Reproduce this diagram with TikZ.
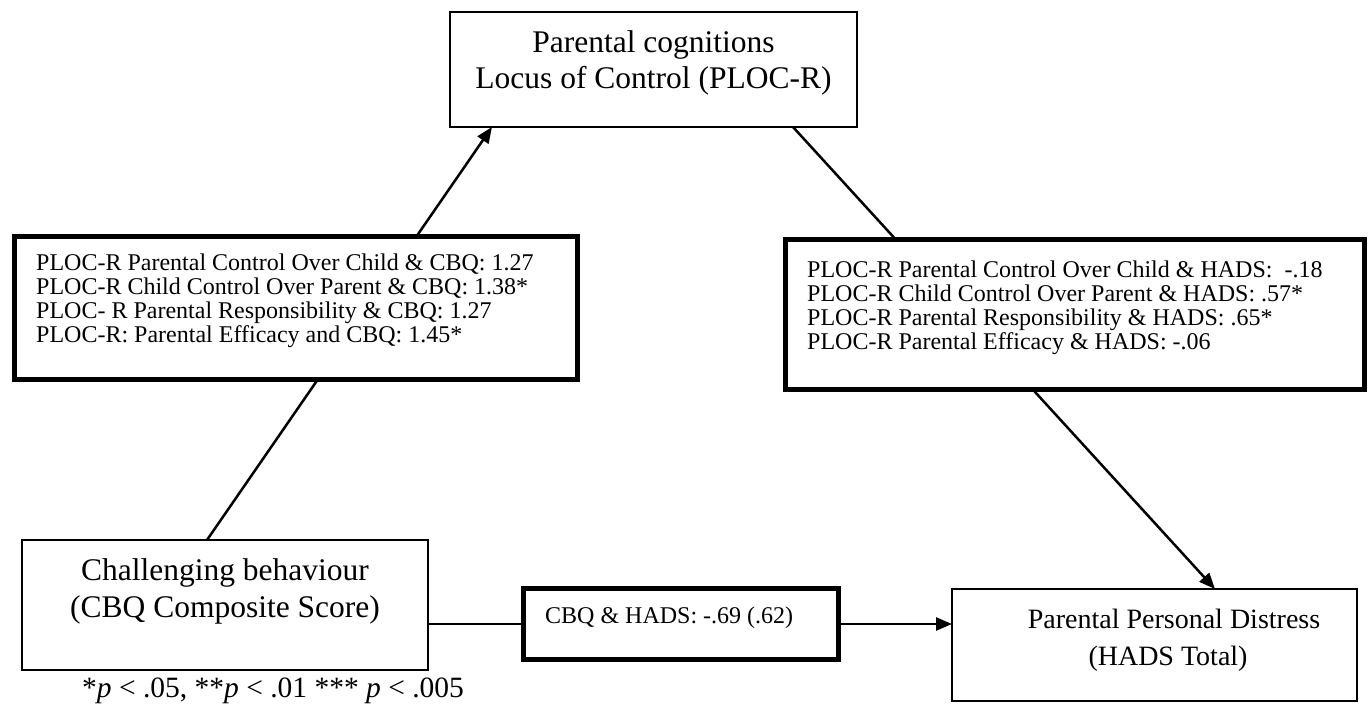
\documentclass[tikz,border=0pt]{standalone}
\usepackage{fontspec}
\setmainfont{Liberation Serif}
\usetikzlibrary{arrows.meta,calc}
\pgfdeclarelayer{bg}
\pgfsetlayers{bg,main}
\begin{document}
\begin{tikzpicture}[x=1pt,y=-1pt,
  box/.style={draw, line width=2pt, fill=white, inner sep=0pt, outer sep=0pt, anchor=north west},
  thickbox/.style={box, line width=5pt},
  bigtxt/.style={font=\fontsize{31.5}{37}\selectfont, inner sep=0pt, anchor=base},
  midtxt/.style={font=\fontsize{28}{33}\selectfont, inner sep=0pt, anchor=base},
  smalltxt/.style={font=\fontsize{24}{28}\selectfont, inner sep=0pt, anchor=base west},
  conn/.style={line width=2.5pt},
  arr/.style={conn, -{Triangle[length=16pt,width=13pt]}}]
\useasboundingbox (0,0) rectangle (1371,704);
% boxes
\node[box, minimum width=407pt, minimum height=115pt] (top) at (450,12) {};
\node[thickbox, minimum width=563pt, minimum height=143pt] (lbox) at (14.5,236.5) {};
\node[thickbox, minimum width=579pt, minimum height=150pt] (rbox) at (785.5,239.5) {};
\node[box, minimum width=406pt, minimum height=130pt] (cb) at (22,540) {};
\node[thickbox, minimum width=315pt, minimum height=71pt] (mid) at (523.5,588.5) {};
\node[box, minimum width=405pt, minimum height=112pt] (dist) at (952,589) {};
% texts
\node[bigtxt] (top1) at (653.5,52) {Parental cognitions};
\node[bigtxt] (top2) at (653.5,88) {Locus of Control (PLOC-R)};
\node[bigtxt] (cb1) at (225,580) {Challenging behaviour};
\node[bigtxt] (cb2) at (225,617) {(CBQ Composite Score)};
\node[midtxt] (d1) at (1174,628) {Parental Personal Distress};
\node[midtxt] (d2) at (1168,665) {(HADS Total)};
\node[smalltxt] (l1) at (36,270) {PLOC-R Parental Control Over Child \& CBQ: 1.27};
\node[smalltxt] (l2) at (36,294) {PLOC-R Child Control Over Parent \& CBQ: 1.38*};
\node[smalltxt] (l3) at (36,318) {PLOC- R Parental Responsibility \& CBQ: 1.27};
\node[smalltxt] (l4) at (36,342) {PLOC-R: Parental Efficacy and CBQ: 1.45*};
\node[smalltxt] (r1) at (807,277) {PLOC-R Parental Control Over Child \& HADS:\ \ -.18};
\node[smalltxt] (r2) at (807,301) {PLOC-R Child Control Over Parent \& HADS: .57*};
\node[smalltxt] (r3) at (807,325) {PLOC-R Parental Responsibility \& HADS: .65*};
\node[smalltxt] (r4) at (807,349) {PLOC-R Parental Efficacy \& HADS: -.06};
\node[smalltxt] (m1) at (545,623) {CBQ \& HADS: -.69 (.62)};
\node[font=\fontsize{29.5}{34}\selectfont, inner sep=0pt, anchor=base west] (fn) at (82,697) {*\textit{p} < .05, **\textit{p} < .01 *** \textit{p} < .005};
% connectors
\begin{pgfonlayer}{bg}
\fill[white] (0,0) rectangle (1371,704);
\coordinate (s1) at ($(cb.north west)+(185,0)$);
\coordinate (e1) at ($(top.south west)+(42,0)$);
\coordinate (s2) at ($(top.south west)+(343,0)$);
\coordinate (e2) at ($(dist.north west)+(263,0)$);
\draw[arr] (s1) -- (e1);
\draw[arr] (s2) -- (e2);
\draw[arr] (cb.east |- mid.center) -- (dist.west |- mid.center);
\end{pgfonlayer}
\end{tikzpicture}
\end{document}
